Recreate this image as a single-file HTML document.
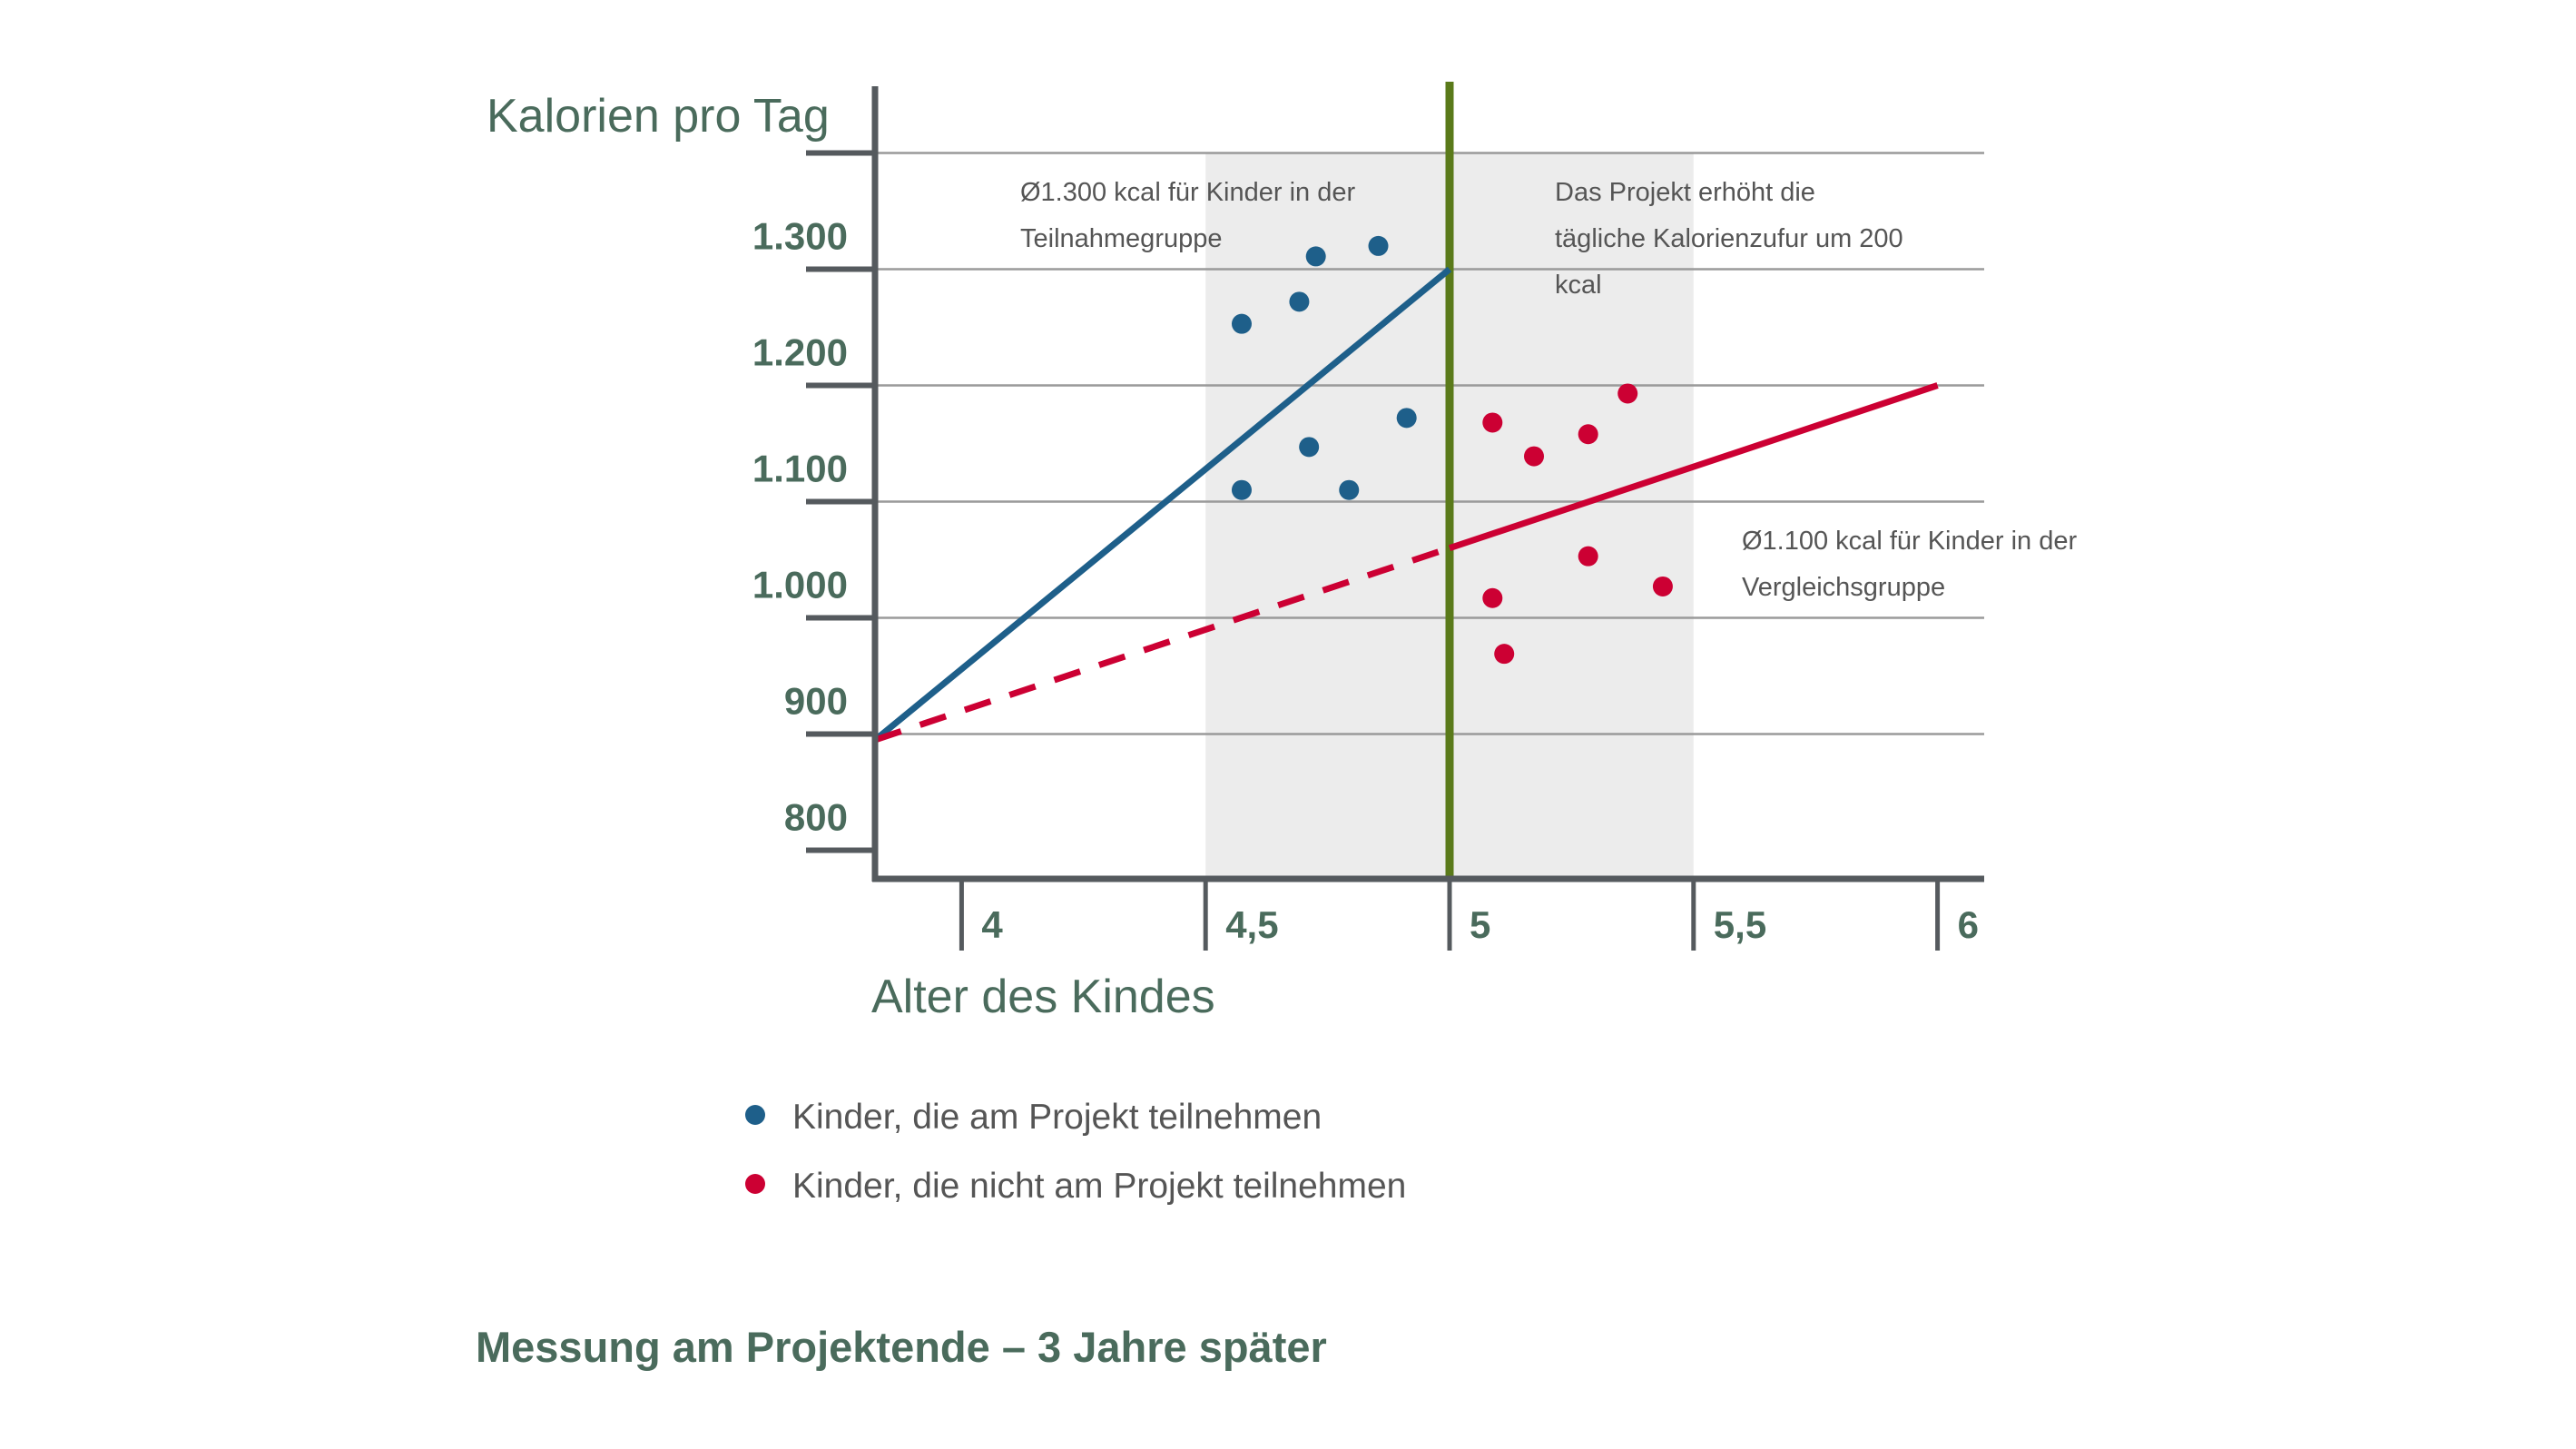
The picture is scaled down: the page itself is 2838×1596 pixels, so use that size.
<!DOCTYPE html>
<html><head><meta charset="utf-8"><style>
html,body{margin:0;padding:0;background:#fff;}
svg{display:block;font-family:"Liberation Sans",sans-serif;}
</style></head><body>
<svg id="chart" width="2838" height="1596" viewBox="0 0 2838 1596" xmlns="http://www.w3.org/2000/svg"></svg>
<script>
const yTicks=[800,900,1000,1100,1200,1300];
const yTickLabels=["800","900","1.000","1.100","1.200","1.300"];
const gridValues=[900,1000,1100,1200,1300,1400];
const xTicks=[4,4.5,5,5.5,6];
const xTickLabels=["4","4,5","5","5,5","6"];
const blueAges=[4.574,4.692,4.726,4.854,4.912,4.712,4.574,4.794];
const blueKcal=[1253,1272,1311,1320,1172,1147,1110,1110];
const redAges=[5.088,5.173,5.284,5.365,5.284,5.437,5.088,5.112];
const redKcal=[1168,1139,1158,1193,1053,1027,1017,969];
const blueLine=[[3.823,895],[5,1300]];
const redDashed=[[3.823,895],[5,1060]];
const redSolid=[[5,1060],[6,1200]];
const bandRange=[4.5,5.5];
const projectAge=5;

const X=a=>1597+(a-5)*537.6;
const Y=v=>296.5+(1300-v)*1.28;
const svg=document.getElementById('chart');
const NS='http://www.w3.org/2000/svg';
function mk(tag,attrs,name,txt){const e=document.createElementNS(NS,tag);for(const k in attrs)e.setAttribute(k,attrs[k]);


if(txt!==undefined)e.textContent=txt;svg.appendChild(e);return e;}
const axX=964,axY=968,right=2186;
mk('rect',{x:X(bandRange[0]),y:Y(1400),width:X(bandRange[1])-X(bandRange[0]),height:axY-Y(1400),fill:'#ececec'},'age-band');
gridValues.forEach(v=>mk('line',{x1:axX,x2:right,y1:Y(v),y2:Y(v),stroke:'#9a9a9a','stroke-width':2.5},'gridline'));
gridValues.concat([800]).forEach(v=>mk('line',{x1:888,x2:axX,y1:Y(v),y2:Y(v),stroke:'#555a5e','stroke-width':6},'y-tick'));
yTicks.forEach((v,i)=>mk('text',{x:934,y:Y(v)-22,'text-anchor':'end','font-size':42,'font-weight':'bold',fill:'#4a6b5c'},'y-tick-label',yTickLabels[i]));
xTicks.forEach((a,i)=>{mk('line',{x1:X(a),x2:X(a),y1:axY,y2:1047,stroke:'#555a5e','stroke-width':5},'x-tick');
mk('text',{x:X(a)+22,y:1033,'font-size':42,'font-weight':'bold',fill:'#4a6b5c'},'x-tick-label',xTickLabels[i]);});
mk('line',{x1:X(projectAge),x2:X(projectAge),y1:90,y2:axY,stroke:'#5a7a1a','stroke-width':9},'project-start-line');
mk('line',{x1:X(blueLine[0][0]),y1:Y(blueLine[0][1]),x2:X(blueLine[1][0]),y2:Y(blueLine[1][1]),stroke:'#1e5f8a','stroke-width':7},'participant-trend-line');
mk('line',{x1:X(redDashed[0][0]),y1:Y(redDashed[0][1]),x2:X(redDashed[1][0]),y2:Y(redDashed[1][1]),stroke:'#cc0033','stroke-width':7,'stroke-dasharray':'30 22'},'comparison-trend-dashed');
mk('line',{x1:X(redSolid[0][0]),y1:Y(redSolid[0][1]),x2:X(redSolid[1][0]),y2:Y(redSolid[1][1]),stroke:'#cc0033','stroke-width':7},'comparison-trend-line');
mk('line',{x1:axX,x2:axX,y1:95,y2:axY+3,stroke:'#555a5e','stroke-width':7},'y-axis');
mk('line',{x1:axX-3,x2:right,y1:axY,y2:axY,stroke:'#555a5e','stroke-width':7},'x-axis');
blueAges.forEach((a,i)=>mk('circle',{cx:X(a),cy:Y(blueKcal[i]),r:11,fill:'#1e5f8a'},'participant-point'));
redAges.forEach((a,i)=>mk('circle',{cx:X(a),cy:Y(redKcal[i]),r:11,fill:'#cc0033'},'comparison-point'));
const ann=(x,y,lines,name)=>lines.forEach((l,i)=>mk('text',{x:x,y:y+i*51,'font-size':29,fill:'#555'},name,l));
ann(1124,221,["Ø1.300 kcal für Kinder in der","Teilnahmegruppe"],'participant-annotation');
ann(1713,221,["Das Projekt erhöht die","tägliche Kalorienzufur um 200","kcal"],'project-annotation');
ann(1919,605,["Ø1.100 kcal für Kinder in der","Vergleichsgruppe"],'comparison-annotation');
mk('text',{x:536,y:145,'font-size':52,fill:'#4a6b5c'},'y-axis-title','Kalorien pro Tag');
mk('text',{x:960,y:1115,'font-size':52,fill:'#4a6b5c'},'x-axis-title','Alter des Kindes');
mk('circle',{cx:832,cy:1228,r:11,fill:'#1e5f8a'},'legend-marker-participants');
mk('text',{x:873,y:1243,'font-size':39,fill:'#555'},'legend-label-participants','Kinder, die am Projekt teilnehmen');
mk('circle',{cx:832,cy:1304,r:11,fill:'#cc0033'},'legend-marker-comparison');
mk('text',{x:873,y:1319,'font-size':39,fill:'#555'},'legend-label-comparison','Kinder, die nicht am Projekt teilnehmen');
mk('text',{x:524,y:1500,'font-size':47,'font-weight':'bold',fill:'#4a6b5c'},'chart-caption','Messung am Projektende – 3 Jahre später');
</script>
</body></html>
